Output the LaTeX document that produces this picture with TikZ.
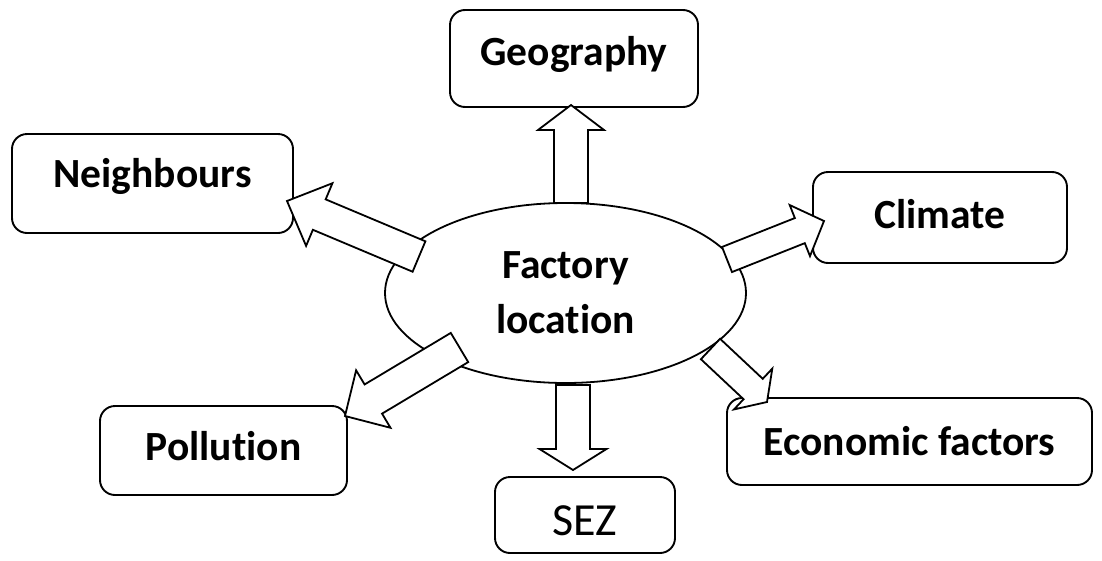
\documentclass[tikz,border=0pt]{standalone}
\usepackage{fontspec}
\setmainfont{Carlito}[RawFeature={-liga}]
\usetikzlibrary{calc,shapes.geometric}
\tikzset{
  box/.style={draw, line width=1.9pt, rounded corners=15pt, inner sep=0pt,
    font=\bfseries\fontsize{41.5}{50}\selectfont},
  hub/.style={draw, ellipse, line width=1.8pt, inner sep=0pt,
    minimum width=361pt, minimum height=180pt, align=center,
    font=\bfseries\fontsize{41.5}{55}\selectfont},
  blockarrow/.style={draw, line width=1.8pt, fill=white, line join=miter},
}
\newcommand\blkarrow[6]{%
  \coordinate (#1h) at ($(#3)!#6!(#2)$);
  \draw[blockarrow] ($(#2)!#4!90:(#3)$) -- ($(#1h)!#4!90:(#3)$)
    -- ($(#1h)!#5!90:(#3)$) -- (#3) -- ($(#1h)!#5!-90:(#3)$)
    -- ($(#1h)!#4!-90:(#3)$) -- ($(#2)!#4!-90:(#3)$) -- cycle;}
\begin{document}
\begin{tikzpicture}[x=1pt,y=-1pt]
\useasboundingbox (0,0) rectangle (1102,560);
\node[hub] (hub) at (565.5,293) {Factory\\location};
\node[box, minimum width=248pt, text height=55pt, text depth=42pt] (geo) at (574,58.5) {Geography};
\node[box, minimum width=281pt, text height=53pt, text depth=46pt] (neigh) at (152.5,183.5) {Neighbours};
\node[box, minimum width=254pt, text height=56pt, text depth=35pt] (clim) at (940,217.5) {Climate};
\node[box, minimum width=247pt, text height=54pt, text depth=35pt] (poll) at (223.5,450.5) {Pollution};
\node[box, minimum width=365pt, text height=57pt, text depth=30pt] (econ) at (909.5,441.5) {Economic factors};
\node[box, font=\fontsize{46}{50}\selectfont, minimum width=180pt, text height=58pt, text depth=18pt] (sez) at (585,515) {SEZ};
% arrow tails and tips
\coordinate (tGeo) at (571,203);   \coordinate (pGeo) at (571,105);
\coordinate (tSez) at (573,385);   \coordinate (pSez) at (573,470);
\coordinate (tNei) at (419,256.5); \coordinate (pNei) at (287,201);
\coordinate (tCli) at (727,259.5); \coordinate (pCli) at (824,221);
\coordinate (tPol) at (459.5,347.5); \coordinate (pPol) at (345,416);
\coordinate (tEco) at (710.5,349); \coordinate (pEco) at (767,402);
\blkarrow{aGeo}{tGeo}{pGeo}{17pt}{33pt}{25pt}
\blkarrow{aSez}{tSez}{pSez}{17pt}{33.5pt}{21pt}
\blkarrow{aNei}{tNei}{pNei}{16.5pt}{34pt}{35pt}
\blkarrow{aCli}{tCli}{pCli}{13.5pt}{27.5pt}{26pt}
\blkarrow{aPol}{tPol}{pPol}{17pt}{33.5pt}{33pt}
\blkarrow{aEco}{tEco}{pEco}{14pt}{28pt}{19pt}
\end{tikzpicture}
\end{document}
